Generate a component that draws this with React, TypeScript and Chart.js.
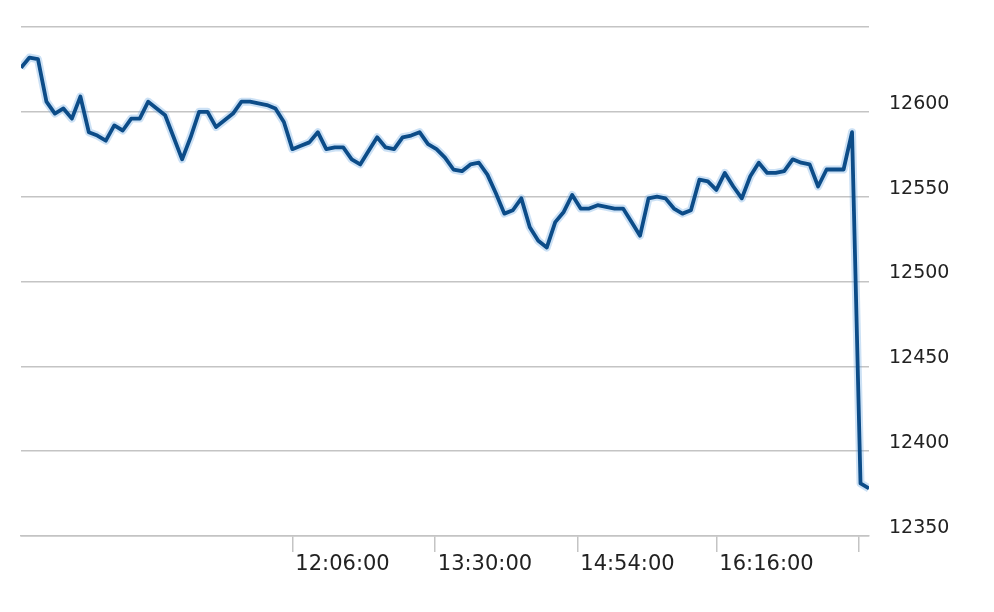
import React, { useEffect, useRef } from "react";
import { Chart, registerables } from "chart.js";

Chart.register(...registerables);

// Time of each sample (HH:MM)
const times: string[] = [
  "09:26", "09:31", "09:36", "09:41", "09:46", "09:51", "09:56", "10:01", "10:06", "10:11",
  "10:16", "10:21", "10:26", "10:31", "10:36", "10:41", "10:46", "10:51", "10:56", "11:01",
  "11:06", "11:11", "11:16", "11:21", "11:26", "11:31", "11:36", "11:41", "11:46", "11:51",
  "11:56", "12:01", "12:06", "12:11", "12:16", "12:21", "12:26", "12:31", "12:36", "12:41",
  "12:46", "12:51", "12:56", "13:01", "13:06", "13:11", "13:16", "13:21", "13:26", "13:31",
  "13:36", "13:41", "13:46", "13:51", "13:56", "14:01", "14:06", "14:11", "14:16", "14:21",
  "14:26", "14:31", "14:36", "14:41", "14:46", "14:51", "14:56", "15:01", "15:06", "15:11",
  "15:16", "15:21", "15:26", "15:31", "15:36", "15:41", "15:46", "15:51", "15:56", "16:01",
  "16:06", "16:11", "16:16", "16:21", "16:26", "16:31", "16:36", "16:41", "16:46", "16:51",
  "16:56", "17:01", "17:06", "17:11", "17:16", "17:21", "17:26", "17:31", "17:36", "17:41",
  "17:46",
];

// Index level at each sample
const values: number[] = [
  12626, 12632, 12631, 12606, 12599, 12602, 12596, 12609, 12588, 12586,
  12583, 12592, 12589, 12596, 12596, 12606, 12602, 12598, 12585, 12572,
  12585, 12600, 12600, 12591, 12595, 12599, 12606, 12606, 12605, 12604,
  12602, 12594, 12578, 12580, 12582, 12588, 12578, 12579, 12579, 12572,
  12569, 12577, 12585, 12579, 12578, 12585, 12586, 12588, 12581, 12578,
  12573, 12566, 12565, 12569, 12570, 12563, 12552, 12540, 12542, 12549,
  12532, 12524, 12520, 12535, 12541, 12551, 12543, 12543, 12545, 12544,
  12543, 12543, 12535, 12527, 12549, 12550, 12549, 12543, 12540, 12542,
  12560, 12559, 12554, 12564, 12556, 12549, 12562, 12570, 12564, 12564,
  12565, 12572, 12570, 12569, 12556, 12566, 12566, 12566, 12588, 12381,
  12378,
];

// X-axis ticks
const xTickTimes: string[] = ["12:06", "13:30", "14:54", "16:16", "17:40"];
const xTickLabels: string[] = ["12:06:00", "13:30:00", "14:54:00", "16:16:00", ""];

// Y-axis range
const yMin = 12350;
const yMax = 12650;
const yStep = 50;
const yHiddenLabel = 12650;

const toMin = (s: string): number => {
  const [h, m] = s.split(":").map(Number);
  return h * 60 + m;
};

const FONT = '"DejaVu Sans", Verdana, sans-serif';

export default function App() {
  const canvasRef = useRef<HTMLCanvasElement | null>(null);

  useEffect(() => {
    const canvas = canvasRef.current;
    if (!canvas) return;
    const points = times.map((t, i) => ({ x: toMin(t), y: values[i] }));
    const tickMins = xTickTimes.map(toMin);

    const chart = new Chart(canvas, {
      type: "line",
      data: {
        datasets: [
          {
            data: points,
            borderColor: "#0c4c88",
            borderWidth: 3.8,
            pointRadius: 0,
            tension: 0,
            fill: false,
            order: 0,
            borderJoinStyle: "round",
          },
          {
            data: points,
            borderColor: "rgba(110,170,225,0.35)",
            borderWidth: 8,
            pointRadius: 0,
            tension: 0,
            fill: false,
            order: 1,
            borderJoinStyle: "round",
          },
        ],
      },
      options: {
        animation: false,
        responsive: true,
        maintainAspectRatio: false,
        events: [],
        layout: { padding: { left: 21, top: 27, right: 0, bottom: 0 } },
        plugins: { legend: { display: false }, tooltip: { enabled: false } },
        scales: {
          x: {
            type: "linear",
            min: toMin(times[0]),
            max: toMin(times[times.length - 1]),
            afterBuildTicks: (s: any) => {
              s.ticks = tickMins.map((v) => ({ value: v }));
            },
            afterFit: (s: any) => {
              s.height = 76;
              s.paddingLeft = 0;
              s.paddingRight = 0;
            },
            grid: {
              drawOnChartArea: false,
              drawTicks: true,
              tickLength: 16,
              color: "#c4c4c4",
              lineWidth: 1.5,
            },
            border: { display: true, color: "#c4c4c4", width: 1.5 },
            ticks: {
              autoSkip: false,
              maxRotation: 0,
              minRotation: 0,
              align: "start",
              labelOffset: 3,
              padding: 0,
              color: "#222",
              font: { family: FONT, size: 21 },
              callback: (v: any) => {
                const i = tickMins.indexOf(Number(v));
                return i >= 0 ? xTickLabels[i] : "";
              },
            },
          },
          y: {
            position: "right",
            min: yMin,
            max: yMax,
            afterFit: (s: any) => {
              s.width = 125;
              s.paddingTop = 0;
              s.paddingBottom = 0;
            },
            grid: { color: "#c4c4c4", lineWidth: 1.5, drawTicks: false },
            border: { display: false },
            ticks: {
              stepSize: yStep,
              padding: 20,
              labelOffset: -8,
              color: "#222",
              font: { family: FONT, size: 19 },
              callback: (v: any) => (Number(v) === yHiddenLabel ? "" : String(v)),
            },
          },
        },
      },
    } as any);

    return () => chart.destroy();
  }, []);

  return (
    <div style={{ position: "fixed", left: 0, top: 0, width: 994, height: 612, background: "#fff" }}>
      <canvas ref={canvasRef} />
    </div>
  );
}
